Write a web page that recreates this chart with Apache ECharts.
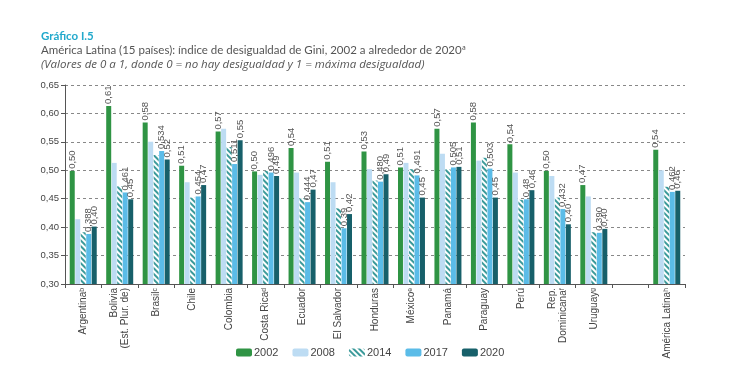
<!DOCTYPE html>
<html><head><meta charset="utf-8">
<script src="https://cdn.jsdelivr.net/npm/echarts@6/dist/echarts.min.js"></script>
<style>html,body{margin:0;padding:0;background:#fff}#c{width:734px;height:365px}</style>
</head><body><div id="c"></div><script>
const categories = ['Argentinaᵇ','Bolivia\n(Est. Plur. de)','Brasilᶜ','Chile','Colombia','Costa Ricaᵈ','Ecuador','El Salvador','Honduras','Méxicoᵉ','Panamá','Paraguay','Perú','Rep.\nDominicanaᶠ','Uruguayᵍ','','América Latinaʰ'];
const years = ['2002','2008','2014','2017','2020'];
const v2002 = [0.499,0.613,0.584,0.508,0.568,0.498,0.539,0.515,0.533,0.505,0.573,0.584,0.546,0.499,0.474,null,0.536];
const v2008 = [0.414,0.513,0.550,0.479,0.573,0.492,0.496,0.479,0.502,0.513,0.529,0.517,0.496,0.490,0.454,null,0.500];
const v2014 = [0.391,0.472,0.527,0.452,0.541,0.499,0.451,0.433,0.482,0.502,0.502,0.522,0.448,0.452,0.391,null,0.471];
const v2017 = [0.388,0.461,0.534,0.454,0.511,0.496,0.444,0.398,0.480,0.491,0.505,0.503,0.449,0.432,0.390,null,0.462];
const v2020 = [0.401,0.449,0.519,0.474,0.553,0.490,0.466,0.423,0.493,0.452,0.506,0.452,0.465,0.405,0.397,null,0.464];
const l2002 = ['0,50','0,61','0,58','0,51','0,57','0,50','0,54','0,51','0,53','0,51','0,57','0,58','0,54','0,50','0,47','','0,54'];
const l2017 = ['0,388','0,461','0,534','0,454','0,511','0,496','0,444','0,39','0,480','0,491','0,505','0,503','0,48','0,432','0,390','','0,462'];
const l2020 = ['0,40','0,45','0,52','0,47','0,55','0,49','0,47','0,42','0,49','0,45','0,51','0,45','0,46','0,40','0,40','','0,46'];
const yTicks = {min:0.30, max:0.65, interval:0.05};

const values = [v2002,v2008,v2014,v2017,v2020];
const labels = [l2002,null,null,l2017,l2020];
const colors = ['#2f9444','#bddcf3','#ffffff','#5bbce8','#17606a'];
const NARROW = "'Liberation Sans Narrow','Arial Narrow',sans-serif";

const series = years.map((y,i)=>{
  const s = {
    name:y, type:'bar', barWidth:5, barGap:'10%',
    itemStyle:{color:colors[i]},
    data: values[i].map((v,k)=>{
      const d = {value:v};
      if (labels[i] && labels[i][k]) {
        d.label = {show:true, formatter:labels[i][k]};
      }
      return d;
    }),
    label:{show:false, position:'top', rotate:90, align:'left', verticalAlign:'middle', distance:2,
      fontSize:9.5, color:'#555', fontFamily:NARROW}
  };
  if (i===2) {
    s.itemStyle = {color:'#ffffff', decal:{symbol:'rect', symbolSize:1, color:'#3b9a9a',
      dashArrayX:[1,0], dashArrayY:[1.2,1.6], rotation:Math.PI/4}};
  }
  return s;
});

const chart = echarts.init(document.getElementById('c'), null, {renderer:'canvas'});
chart.setOption({
  animation:false,
  backgroundColor:'#fff',
  title:[
    {text:'Gráfico I.5', left:36, top:25, textStyle:{fontFamily:'Lato', fontSize:11.5, fontWeight:'bold', color:'#22a9cc'}},
    {text:'América Latina (15 países): índice de desigualdad de Gini, 2002 a alrededor de 2020ª', left:36, top:39, textStyle:{fontFamily:'Lato', fontSize:11.5, fontWeight:'normal', color:'#555'}},
    {text:'(Valores de 0 a 1, donde 0 = no hay desigualdad y 1 = máxima desigualdad)', left:36, top:54, textStyle:{fontFamily:'Open Sans', fontSize:11.5, fontStyle:'italic', fontWeight:'normal', color:'#555'}}
  ],
  legend:{left:231, top:342, itemWidth:16, itemHeight:8, itemGap:14,
    textStyle:{fontFamily:NARROW, fontSize:11, color:'#444', padding:[0,0,0,-3]},
    data:years},
  grid:{left:65, right:49, top:85, bottom:81},
  xAxis:{type:'category', data:categories,
    axisLine:{lineStyle:{color:'#555', width:1}},
    axisTick:{show:true, length:4, lineStyle:{color:'#555'}},
    axisLabel:{rotate:90, fontFamily:NARROW, fontSize:10, color:'#444', margin:4, lineHeight:11, interval:0}},
  yAxis:{type:'value', min:yTicks.min, max:yTicks.max, interval:yTicks.interval,
    axisLine:{show:true, lineStyle:{color:'#555'}},
    axisTick:{show:true, length:4, inside:false, lineStyle:{color:'#555'}},
    splitLine:{show:true, lineStyle:{type:[3,3], color:'#888', width:1}},
    axisLabel:{fontFamily:NARROW, fontSize:9.5, color:'#444', margin:6,
      formatter:v=>v.toFixed(2).replace('.',',')}},
  series:series
});
</script></body></html>
